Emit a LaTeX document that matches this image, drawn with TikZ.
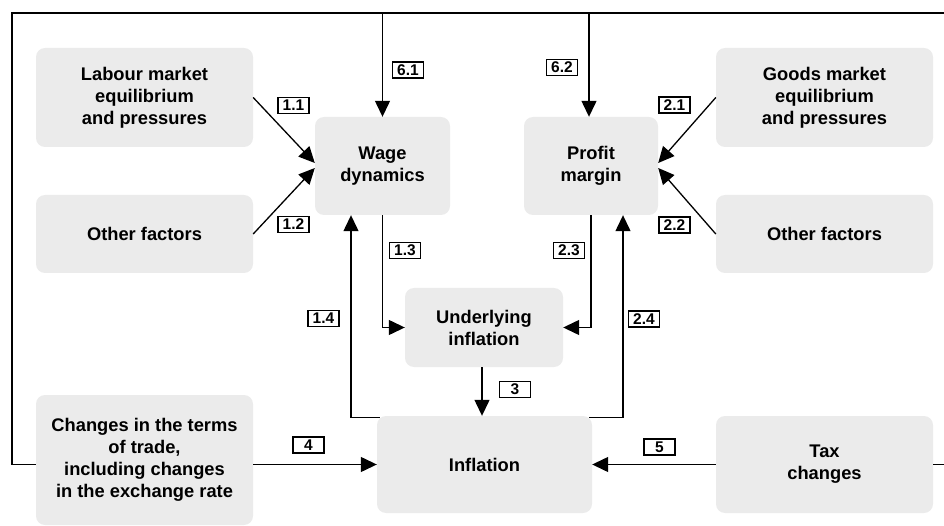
\documentclass[tikz,border=0pt]{standalone}
\usepackage{fontspec}
\setmainfont{Liberation Sans}
\usetikzlibrary{arrows.meta,positioning,calc}
\definecolor{boxgray}{HTML}{EBEBEB}
\begin{document}
\begin{tikzpicture}[x=1pt,y=-1pt,
  blk/.style={fill=boxgray,rounded corners=9pt,align=center,inner sep=0pt,
    font=\fontsize{18.3}{22}\selectfont\bfseries},
  lbl/.style={draw,line width=1.2pt,minimum width=31pt,minimum height=16pt,inner sep=0pt,
    font=\fontsize{15.5}{16}\selectfont\bfseries},
  ln/.style={line width=1.3pt},
  arr/.style={line width=1.3pt,-{Triangle[length=16pt,width=15pt]}}]
\useasboundingbox (0,0) rectangle (944,526);
% boxes
\node[blk,minimum width=217pt,minimum height=99pt] (labour) at (144.5,97.5) {Labour market\\equilibrium\\and pressures};
\node[blk,minimum width=217pt,minimum height=78pt] (otherL) at (144.5,234) {Other factors};
\node[blk,minimum width=135pt,minimum height=98pt] (wage) at (382.5,166) {Wage\\dynamics};
\node[blk,minimum width=134pt,minimum height=98pt] (profit) at (591,166) {Profit\\margin};
\node[blk,minimum width=217pt,minimum height=99pt] (goods) at (824.5,97.5) {Goods market\\equilibrium\\and pressures};
\node[blk,minimum width=217pt,minimum height=78pt] (otherR) at (824.5,234) {Other factors};
\node[blk,minimum width=158pt,minimum height=79pt] (under) at (484,327.5) {Underlying\\inflation};
\node[blk,minimum width=215pt,minimum height=97pt] (infl) at (484.5,464.5) {Inflation};
\node[blk,minimum width=217pt,minimum height=130pt] (changes) at (144.5,460) {Changes in the terms\\of trade,\\including changes\\in the exchange rate};
\node[blk,minimum width=217pt,minimum height=97pt] (tax) at (824.5,464.5) {Tax\\changes};
% frame coordinates
\coordinate (tl) at (12,13);
\coordinate (tr) at (944,13);
\coordinate (bl) at (12,464.5);
\coordinate (br) at (944,464.5);
% frame
\draw[ln] (changes.west |- infl.west) -- (bl) -- (tl) -- (tr);
\draw[ln] (tax.east) -- (br);
% connectors
\draw[arr] (wage.north |- tl) -- (wage.north);
\draw[arr] ([xshift=-2pt]profit.north |- tl) -- ([xshift=-2pt]profit.north);
\draw[arr] (labour.east) -- ([yshift=3pt]wage.west);
\draw[arr] (otherL.east) -- ([yshift=-2pt]wage.west);
\draw[arr] (goods.west) -- ([yshift=3pt]profit.east);
\draw[arr] (otherR.west) -- ([yshift=-2pt]profit.east);
\draw[arr] (wage.south) |- (under.west);
\draw[arr] (profit.south) |- (under.east);
\draw[arr] ([xshift=3pt,yshift=-2pt]infl.north west) -| ([xshift=-31.5pt]wage.south);
\draw[arr] ([xshift=-3pt,yshift=-2pt]infl.north east) -| ([xshift=32pt]profit.south);
\draw[arr] ([xshift=-2pt]under.south) -- ([xshift=-2pt]under.south |- infl.north);
\draw[arr] (changes.east |- infl.west) -- (infl.west);
\draw[arr] (tax.west) -- (infl.east);
% labels
\node[lbl] (l61) at (408,70) {6.1};
\node[lbl] (l11) at (293.5,105.5) {1.1};
\node[lbl] (l12) at (293.5,224.5) {1.2};
\node[lbl] (l13) at (405,250.5) {1.3};
\node[lbl] (l14) at (323.5,318.5) {1.4};
\node[lbl] (l62) at (562,67.5) {6.2};
\node[lbl] (l21) at (674.5,105) {2.1};
\node[lbl] (l22) at (674.5,225) {2.2};
\node[lbl] (l23) at (569,250.5) {2.3};
\node[lbl] (l24) at (644,319) {2.4};
\node[lbl] (l3) at (515,389.5) {3};
\node[lbl] (l4) at (308.5,445) {4};
\node[lbl] (l5) at (659.5,447) {5};
\end{tikzpicture}
\end{document}
